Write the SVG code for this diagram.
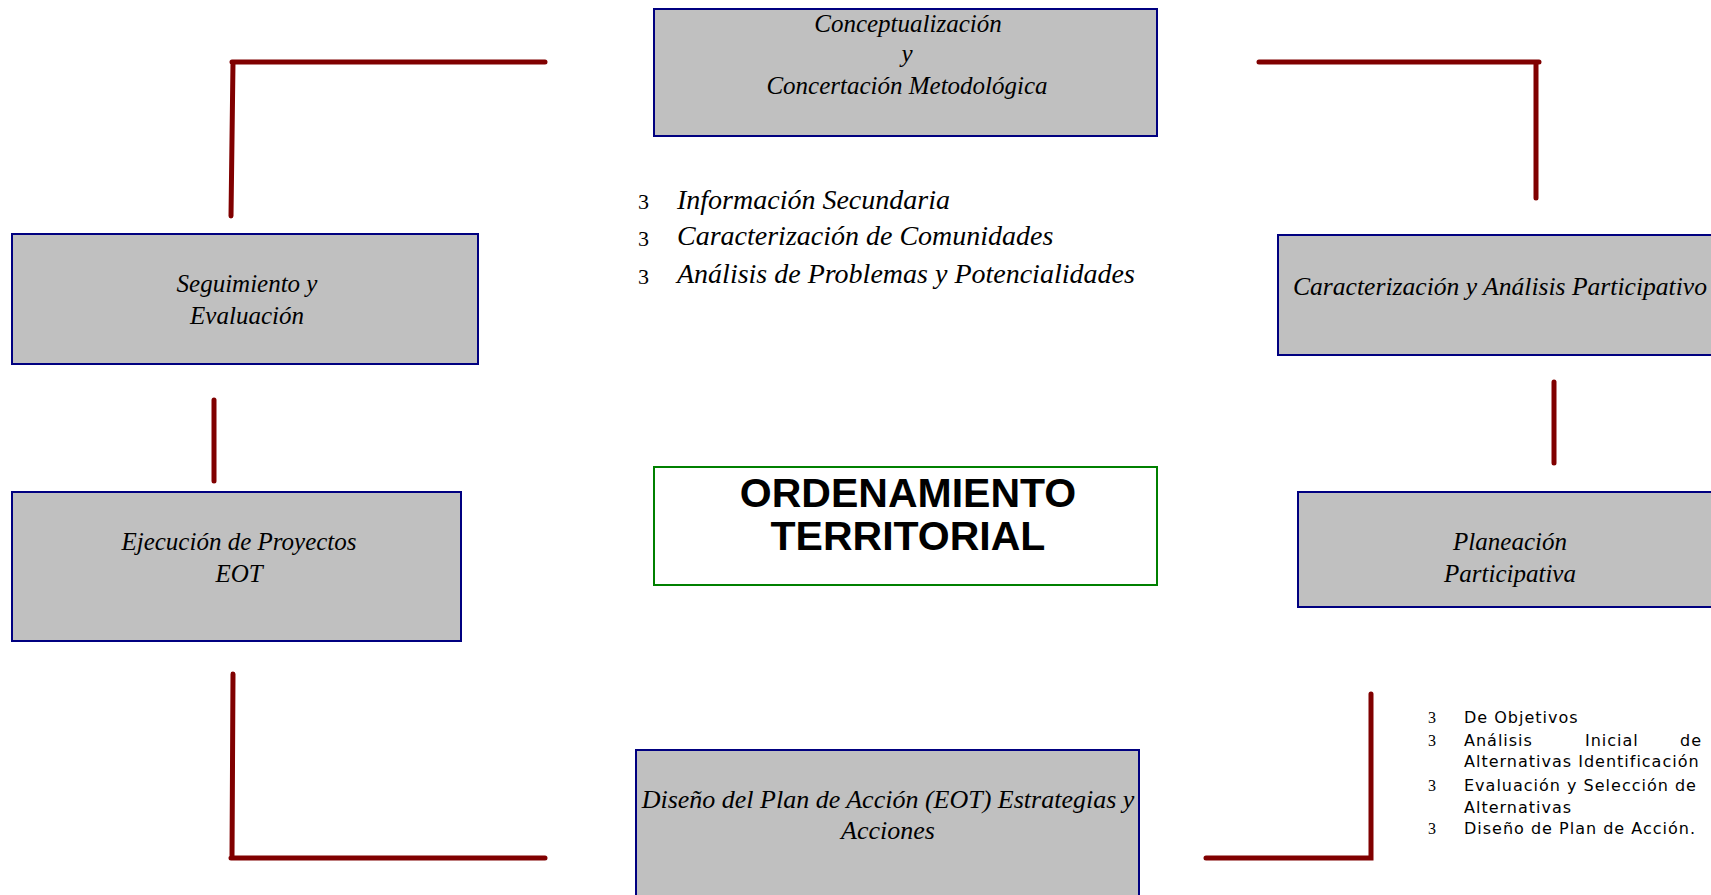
<svg xmlns="http://www.w3.org/2000/svg" width="1711" height="895" viewBox="0 0 1711 895">
<style>
.box{fill:#c0c0c0;stroke:#000080;stroke-width:2}
.core{fill:#ffffff;stroke:#008000;stroke-width:2}
.it{font-family:"Liberation Serif","Times New Roman",serif;font-style:italic;font-size:25px;fill:#000;text-anchor:middle}
.bl{font-family:"Liberation Serif","Times New Roman",serif;font-style:italic;font-size:28px;fill:#000}
.num{font-family:"Liberation Serif","Times New Roman",serif;font-size:22px;fill:#000}
.num2{font-family:"Liberation Serif","Times New Roman",serif;font-size:16px;fill:#000}
.sm{font-family:"DejaVu Sans",Verdana,sans-serif;font-size:16px;letter-spacing:1px;fill:#000}
.big{font-family:"Liberation Sans",Arial,sans-serif;font-weight:bold;font-size:41px;fill:#000;text-anchor:middle}
.con{fill:none;stroke:#800000;stroke-width:5;stroke-linecap:round;stroke-linejoin:miter}
</style>
<rect width="1711" height="895" fill="#ffffff"/>
<g id="connectors">
<path class="con" d="M545,62 H232 M233,62 L231,216"/>
<path class="con" d="M1259,62 H1539 M1536,62 V198"/>
<path class="con" d="M214,400 V481"/>
<path class="con" d="M1554,382 V463"/>
<path class="con" d="M233,674 L232,858 M231,858 H545"/>
<path class="con" d="M1371,694 V858 H1206"/>
</g>
<g id="n-conceptualizacion">
<rect class="box" x="654" y="9" width="503" height="127"/>
<text class="it" x="908" y="32">Conceptualización</text>
<text class="it" x="907" y="62">y</text>
<text class="it" x="907" y="94">Concertación Metodológica</text>
</g>
<g id="n-bullets-top">
<text class="num" x="638" y="209">3</text>
<text class="bl" x="677" y="209">Información Secundaria</text>
<text class="num" x="638" y="246">3</text>
<text class="bl" x="677" y="245">Caracterización de Comunidades</text>
<text class="num" x="638" y="284">3</text>
<text class="bl" x="677" y="283">Análisis de Problemas y Potencialidades</text>
</g>
<g id="n-seguimiento">
<rect class="box" x="12" y="234" width="466" height="130"/>
<text class="it" x="247" y="292">Seguimiento y</text>
<text class="it" x="247" y="324">Evaluación</text>
</g>
<g id="n-caracterizacion">
<rect class="box" x="1278" y="235" width="450" height="120"/>
<text class="it" x="1293" y="295" style="text-anchor:start;font-size:25.6px">Caracterización y Análisis Participativo</text>
</g>
<g id="n-ordenamiento">
<rect class="core" x="654" y="467" width="503" height="118"/>
<text class="big" x="908" y="507">ORDENAMIENTO</text>
<text class="big" x="908" y="550">TERRITORIAL</text>
</g>
<g id="n-ejecucion">
<rect class="box" x="12" y="492" width="449" height="149"/>
<text class="it" x="239" y="550">Ejecución de Proyectos</text>
<text class="it" x="239" y="582">EOT</text>
</g>
<g id="n-planeacion">
<rect class="box" x="1298" y="492" width="430" height="115"/>
<text class="it" x="1510" y="550">Planeación</text>
<text class="it" x="1510" y="582">Participativa</text>
</g>
<g id="n-bullets-right">
<text class="num2" x="1428" y="723">3</text>
<text class="sm" x="1464" y="723">De Objetivos</text>
<text class="num2" x="1428" y="746">3</text>
<text class="sm" y="746"><tspan x="1464">Análisis</tspan><tspan x="1585">Inicial</tspan><tspan x="1680">de</tspan></text>
<text class="sm" x="1464" y="767">Alternativas Identificación</text>
<text class="num2" x="1428" y="791">3</text>
<text class="sm" x="1464" y="791">Evaluación y Selección de</text>
<text class="sm" x="1464" y="813">Alternativas</text>
<text class="num2" x="1428" y="834">3</text>
<text class="sm" x="1464" y="834">Diseño de Plan de Acción.</text>
</g>
<g id="n-diseno">
<rect class="box" x="636" y="750" width="503" height="160"/>
<text class="it" x="888" y="808" style="font-size:26px">Diseño del Plan de Acción (EOT) Estrategias y</text>
<text class="it" x="888" y="839" style="font-size:26px">Acciones</text>
</g>
</svg>
